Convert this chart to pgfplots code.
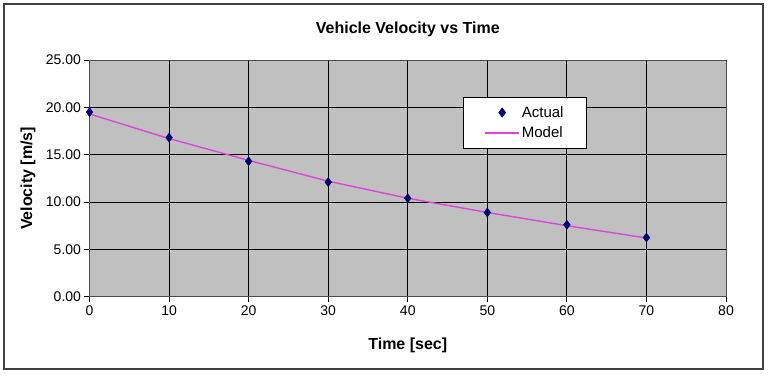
\documentclass[border=0pt]{standalone}
\usepackage{pgfplots}
\pgfplotsset{compat=1.18}
\usepackage{fontspec}
\setmainfont{Liberation Sans}
\definecolor{plotgray}{RGB}{192,192,192}
\definecolor{navyb}{RGB}{0,0,110}
\definecolor{magline}{RGB}{220,70,220}
\pgfplotsset{
  actleg/.style={legend image code/.code={\draw[##1] plot coordinates {(17pt,0pt)};}},
  modleg/.style={legend image code/.code={\draw[magline, line width=1.3pt] (0pt,0pt) -- (34pt,0pt);}},
}
\begin{document}
\begin{tikzpicture}
\useasboundingbox (-89.5pt,-78.3pt) rectangle (678.5pt,296.7pt);
\draw[line width=1.3pt, black!75] (-85.5pt,-72.3pt) rectangle (673.5pt,292.7pt);
\begin{axis}[
  at={(0pt,0pt)}, anchor=south west,
  scale only axis, width=636.5pt, height=236.7pt,
  xmin=0, xmax=80, ymin=0, ymax=25,
  xtick={0,10,...,80}, ytick={0,5,...,25},
  xtick pos=left, ytick pos=left,
  grid=major, major grid style={black, line width=1pt},
  axis background/.style={fill=plotgray},
  axis line style={black!70, line width=1pt},
  tick align=outside, major tick length=5pt,
  tick style={black, line width=0.9pt},
  /pgf/number format/assume math mode=true,
  tick label style={font=\fontsize{14}{14}\selectfont},
  yticklabel style={/pgf/number format/.cd, fixed, fixed zerofill, precision=2},
  xticklabel style={/pgf/number format/.cd, fixed, precision=0},
  title={\bfseries Vehicle Velocity vs Time},
  title style={font=\fontsize{16}{16}\selectfont, at={(axis description cs:0.5,1.105)}, anchor=center},
  xlabel={\bfseries Time [sec]},
  xlabel style={font=\fontsize{16}{16}\selectfont, at={(axis description cs:0.5,-0.205)}, anchor=center},
  ylabel={\bfseries Velocity [m/s]},
  ylabel style={font=\fontsize{16}{16}\selectfont, at={(axis description cs:-0.0966,0.5)}, anchor=center},
  legend style={at={(rel axis cs:0.587,0.844)}, anchor=north west, draw=black, line width=0.8pt, fill=white,
    font=\fontsize{15}{15}\selectfont, inner xsep=21pt, inner ysep=7pt, row sep=4pt},
  legend cell align=left,
]
\addplot[magline, line width=1.4pt, no markers, forget plot] coordinates {
 (0,19.3) (10,16.7) (20,14.4) (30,12.2) (40,10.4) (50,8.9) (60,7.5) (70,6.2)
};
\addplot[only marks, mark=diamond*, mark size=4.5pt, navyb, mark options={fill=navyb, draw=navyb}, actleg] coordinates {
 (0,19.5) (10,16.8) (20,14.3) (30,12.1) (40,10.4) (50,8.9) (60,7.6) (70,6.25)
};
\addlegendentry{Actual}
\addlegendimage{modleg}
\addlegendentry{Model}
\end{axis}
\end{tikzpicture}
\end{document}
